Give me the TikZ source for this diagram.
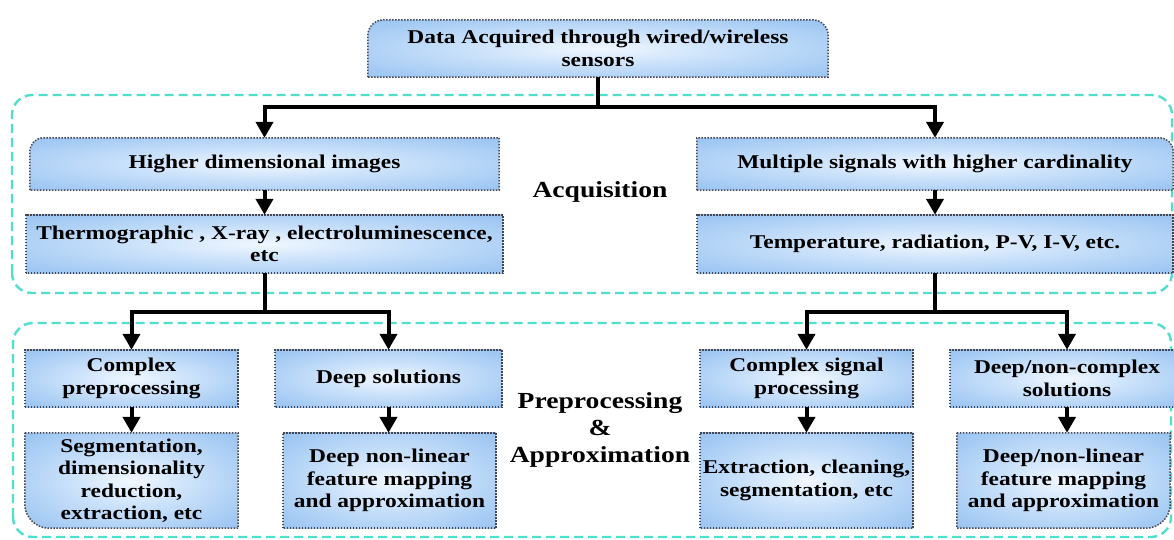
\documentclass[tikz,border=0pt]{standalone}
\usepackage{fontspec}
\setmainfont{Liberation Serif}[FakeStretch=1.2]
\usetikzlibrary{arrows.meta,backgrounds}
\definecolor{turq}{RGB}{80,222,205}
\definecolor{glowin}{RGB}{240,247,255}
\definecolor{glowmid}{RGB}{200,224,250}
\definecolor{glowout}{RGB}{155,197,242}
\definecolor{boxline}{RGB}{70,70,80}
\pgfdeclareradialshading{glow}{\pgfpoint{0bp}{0bp}}{color(0bp)=(glowin); color(15bp)=(glowmid); color(34bp)=(glowout); color(50bp)=(glowout)}
\begin{document}
\begin{tikzpicture}[x=1pt,y=1pt,
  txt/.style={inner sep=0pt, align=center, font=\fontsize{19.5}{22.5}\selectfont\bfseries},
  big/.style={inner sep=0pt, align=center, font=\fontsize{23}{27}\selectfont\bfseries},
  boxbg/.style={draw=boxline, line width=1.5pt, dash pattern=on 1.5pt off 1.5pt, shade, shading=glow},
  zone/.style={draw=turq, line width=2.4pt, dash pattern=on 9pt off 5pt, rounded corners=20pt},
  link/.style={line width=4pt},
  arr/.style={line width=4pt, -{Triangle[length=16pt,width=17pt]}}
]
\useasboundingbox (0,0) rectangle (1174,539);

% nodes
\node[txt, minimum width=460pt, minimum height=57pt] (top) at (598,490.5) {Data Acquired through wired/wireless\\sensors};
\node[txt, minimum width=469pt, minimum height=52pt] (higher) at (264.5,375) {Higher dimensional images};
\node[txt, minimum width=477pt, minimum height=58pt] (therm) at (264.5,295) {Thermographic , X-ray , electroluminescence,\\etc};
\node[txt, minimum width=476pt, minimum height=52pt] (multi) at (935,375) {Multiple signals with higher cardinality};
\node[txt, minimum width=476pt, minimum height=58pt] (temp) at (935,295) {Temperature, radiation, P-V, I-V, etc.};

\node[txt, minimum width=213pt, minimum height=57pt] (cpre) at (131.5,160.5) {Complex\\preprocessing};
\node[txt, minimum width=213pt, minimum height=95pt] (seg) at (131.5,58.5) {Segmentation,\\dimensionality\\reduction,\\extraction, etc};
\node[txt, minimum width=227pt, minimum height=57pt] (dsol) at (388.5,160.5) {Deep solutions};
\node[txt, minimum width=213pt, minimum height=95pt] (dnl) at (389.5,58.5) {Deep non-linear\\feature mapping\\and approximation};

\node[txt, minimum width=213pt, minimum height=57pt] (csp) at (806.5,160.5) {Complex signal\\processing};
\node[txt, minimum width=213pt, minimum height=95pt] (ext) at (806.5,58.5) {Extraction, cleaning,\\segmentation, etc};
\node[txt, minimum width=234pt, minimum height=57pt] (dnc) at (1067,160.5) {Deep/non-complex\\solutions};
\node[txt, minimum width=213pt, minimum height=95pt] (dnlb) at (1063.5,58.5) {Deep/non-linear\\feature mapping\\and approximation};

\node[big] (acq) at (600,347) {Acquisition};
\node[big] (prep) at (600,109) {Preprocessing\\\&\\Approximation};

% backgrounds
\begin{pgfonlayer}{background}
\draw[zone] (12,246) rectangle (1172,444);
\draw[zone] (13,2) rectangle (1171,216);

\path[boxbg] (top.south west) -- ([yshift=-16pt]top.north west) .. controls ([yshift=-7pt]top.north west) and ([xshift=7pt]top.north west) .. ([xshift=16pt]top.north west) -- ([xshift=-16pt]top.north east) .. controls ([xshift=-7pt]top.north east) and ([yshift=-7pt]top.north east) .. ([yshift=-16pt]top.north east) -- (top.south east) -- cycle;

\path[boxbg] (higher.south west) -- ([yshift=-14pt]higher.north west) .. controls ([yshift=-6pt]higher.north west) and ([xshift=6pt]higher.north west) .. ([xshift=14pt]higher.north west) -- (higher.north east) -- (higher.south east) -- cycle;

\path[boxbg] (multi.south west) -- (multi.north west) -- ([xshift=-14pt]multi.north east) .. controls ([xshift=-6pt]multi.north east) and ([yshift=-6pt]multi.north east) .. ([yshift=-14pt]multi.north east) -- (multi.south east) -- cycle;

\path[boxbg] (therm.south west) rectangle (therm.north east);
\path[boxbg] (temp.south west) rectangle (temp.north east);
\path[boxbg] (cpre.south west) rectangle (cpre.north east);
\path[boxbg] (dsol.south west) rectangle (dsol.north east);
\path[boxbg] (dnl.south west) rectangle (dnl.north east);
\path[boxbg] (csp.south west) rectangle (csp.north east);
\path[boxbg] (ext.south west) rectangle (ext.north east);
\path[boxbg] (dnc.south west) rectangle (dnc.north east);

\path[boxbg] (seg.north west) -- (seg.north east) -- (seg.south east) -- ([xshift=24pt]seg.south west) .. controls ([xshift=11pt]seg.south west) and ([yshift=11pt]seg.south west) .. ([yshift=24pt]seg.south west) -- cycle;

\path[boxbg] (dnlb.north west) -- (dnlb.north east) -- ([yshift=24pt]dnlb.south east) .. controls ([yshift=11pt]dnlb.south east) and ([xshift=-11pt]dnlb.south east) .. ([xshift=-24pt]dnlb.south east) -- (dnlb.south west) -- cycle;
\end{pgfonlayer}

% connectors
\coordinate (j1) at (598,432);
\coordinate (j2) at (264.5,227);
\coordinate (j3) at (935,227);

\draw[link] (top.south) -- (j1);
\draw[arr] (j1) -| (higher.north);
\draw[arr] (j1) -| (multi.north);
\draw[arr] (higher.south) -- (therm.north);
\draw[arr] (multi.south) -- (temp.north);

\draw[link] (therm.south) -- (j2);
\draw[arr] (j2) -| (cpre.north);
\draw[arr] (j2) -| (dsol.north);
\draw[arr] (cpre.south) -- (seg.north);
\draw[arr] (dsol.south) -- (dsol.south |- dnl.north);

\draw[link] (temp.south) -- (j3);
\draw[arr] (j3) -| (csp.north);
\draw[arr] (j3) -| (dnc.north);
\draw[arr] (csp.south) -- (ext.north);
\draw[arr] (dnc.south) -- (dnc.south |- dnlb.north);
\end{tikzpicture}
\end{document}
